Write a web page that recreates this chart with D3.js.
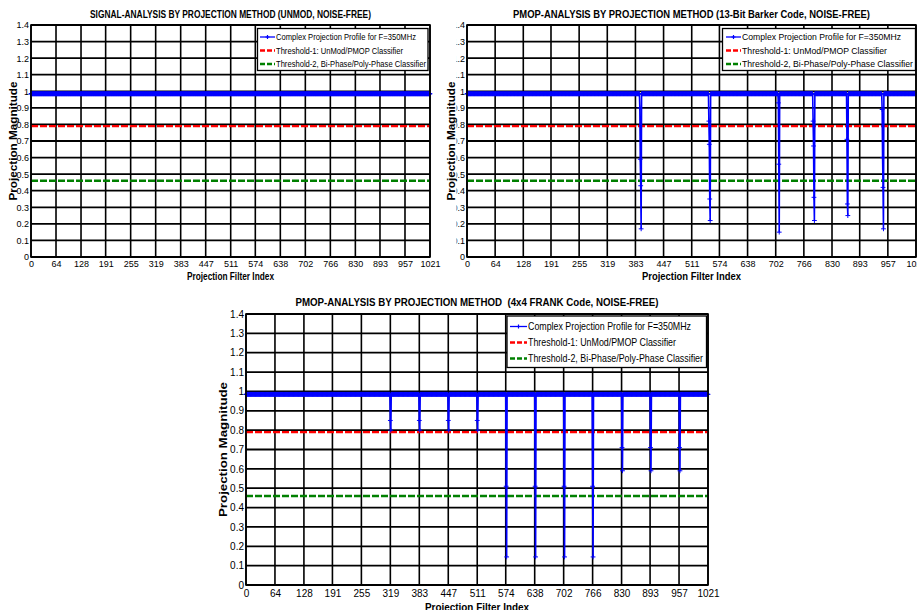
<!DOCTYPE html>
<html><head><meta charset="utf-8">
<script src="https://cdn.jsdelivr.net/npm/d3@7"></script>
<style>
html,body{margin:0;padding:0;background:#fff;overflow:hidden}
svg{display:block}
text{font-family:"Liberation Sans Narrow","Arial Narrow","Liberation Sans",Arial,sans-serif;fill:#000}
</style></head><body>
<svg id="fig" width="917" height="610"></svg>
<script>
// Projection filter axis ticks and magnitude ticks
const filterTicks = [0, 64, 128, 191, 255, 319, 383, 447, 511, 574, 638, 702, 766, 830, 893, 957, 1021];
const magnitudeTicks = [0, 0.1, 0.2, 0.3, 0.4, 0.5, 0.6, 0.7, 0.8, 0.9, 1.0, 1.1, 1.2, 1.3, 1.4];
const filterCount = 1022;

// Flat projection level for the unmodulated carrier and classifier thresholds
const profileLevel = 0.985;
const threshold1 = 0.79;
const threshold2 = 0.46;

// 13-bit Barker code: start index of each dip and the magnitudes that follow
const barkerDipStart = [393, 550, 708, 787, 864, 944];
const barkerDipValues = [
  [0.90, 0.59, 0.43, 0.17],
  [0.82, 0.68, 0.35, 0.22],
  [0.93, 0.56, 0.15],
  [0.82, 0.67, 0.36, 0.22],
  [0.71, 0.32, 0.25],
  [0.89, 0.60, 0.42, 0.17]
];

// 4x4 Frank code: start index of each dip and its magnitudes
const frankDipStart = [319, 383, 447, 511, 575, 639, 703, 766, 831, 894, 958];
const frankDipValues = [
  [0.85, 0.80], [0.85, 0.80], [0.85, 0.80], [0.85, 0.80],
  [0.51, 0.145], [0.51, 0.145], [0.51, 0.145], [0.51, 0.145],
  [0.71, 0.59], [0.71, 0.59], [0.71, 0.59]
];

const legendLabels = [
  "Complex Projection Profile for F=350MHz",
  "Threshold-1: UnMod/PMOP Classifier",
  "Threshold-2, Bi-Phase/Poly-Phase Classifier"
];
const panelTitles = [
  "SIGNAL-ANALYSIS BY PROJECTION METHOD (UNMOD, NOISE-FREE)",
  "PMOP-ANALYSIS BY PROJECTION METHOD (13-Bit Barker Code, NOISE-FREE)",
  "PMOP-ANALYSIS BY PROJECTION METHOD  (4x4 FRANK Code, NOISE-FREE)"
];
const xLabel = "Projection Filter Index";
const yLabel = "Projection Magnitude";

function buildProfile(starts, values) {
  const p = d3.range(filterCount).map(i => ({ i, v: profileLevel }));
  starts.forEach((s, k) => values[k].forEach((v, j) => { p[s + j].v = v; }));
  return p;
}

const svg = d3.select("#fig");
const defs = svg.append("defs");
const BLUE = "#0000ff", RED = "#ff0000", GREEN = "#008000";

function drawPanel(cfg, id) {
  const g = svg.append("g");
  const x = d3.scaleLinear().domain([0, 1021]).range([cfg.left, cfg.right]);
  const y = d3.scaleLinear().domain([0, 1.4]).range([cfg.bottom, cfg.top]);

  // grid
  g.append("g").selectAll("line").data(filterTicks).join("line")
    .attr("x1", d => x(d)).attr("x2", d => x(d))
    .attr("y1", cfg.top).attr("y2", cfg.bottom)
    .attr("stroke", "#000").attr("stroke-width", 1.6);
  g.append("g").selectAll("line").data(magnitudeTicks).join("line")
    .attr("x1", cfg.left).attr("x2", cfg.right)
    .attr("y1", d => y(d)).attr("y2", d => y(d))
    .attr("stroke", "#000").attr("stroke-width", 1.8);

  // thresholds
  [[threshold1, RED], [threshold2, GREEN]].forEach(([t, c]) => {
    g.append("line")
      .attr("x1", cfg.left).attr("x2", cfg.right)
      .attr("y1", y(t)).attr("y2", y(t))
      .attr("stroke", c).attr("stroke-width", 2.4)
      .attr("stroke-dasharray", "7,2");
  });

  // projection profile with '+' markers
  const line = d3.line().x(d => x(d.i)).y(d => y(d.v));
  g.append("path").datum(cfg.profile)
    .attr("d", line).attr("fill", "none")
    .attr("stroke", BLUE).attr("stroke-width", 1.6);
  const m = 2.4;
  g.append("path")
    .attr("d", cfg.profile.map(d => {
      const px = x(d.i), py = y(d.v);
      return `M${px - m},${py}H${px + m}M${px},${py - m}V${py + m}`;
    }).join(""))
    .attr("fill", "none").attr("stroke", BLUE).attr("stroke-width", 1);

  // frame
  g.append("rect").attr("x", cfg.left).attr("y", cfg.top)
    .attr("width", cfg.right - cfg.left).attr("height", cfg.bottom - cfg.top)
    .attr("fill", "none").attr("stroke", "#000").attr("stroke-width", 1.6);

  // axes
  const fmt = d => d3.format(".1f")(d).replace(/\.0$/, "");
  const xa = g.append("g").attr("transform", `translate(0,${cfg.bottom})`)
    .call(d3.axisBottom(x).tickValues(filterTicks).tickFormat(d3.format("d"))
      .tickSize(0).tickPadding(cfg.xPad));
  const ya = g.append("g").attr("transform", `translate(${cfg.left},0)`)
    .call(d3.axisLeft(y).tickValues(magnitudeTicks).tickFormat(fmt).tickSize(0).tickPadding(2));
  [xa, ya].forEach(a => {
    a.select(".domain").remove();
    a.attr("font-family", null).attr("font-size", cfg.tickFs);
  });
  if (cfg.yTickClipX) {
    defs.append("clipPath").attr("id", "yclip" + id).append("rect")
      .attr("x", cfg.yTickClipX - cfg.left).attr("y", 0)
      .attr("width", 100).attr("height", 610);
    ya.attr("clip-path", `url(#yclip${id})`);
  }

  // title and axis labels
  g.append("text").attr("x", (cfg.left + cfg.right) / 2).attr("y", cfg.titleY)
    .attr("text-anchor", "middle").attr("font-weight", "bold")
    .attr("font-size", cfg.titleFs).attr("textLength", cfg.titleLen)
    .attr("lengthAdjust", "spacingAndGlyphs").style("white-space", "pre")
    .text(cfg.title);
  g.append("text").attr("x", (cfg.left + cfg.right) / 2).attr("y", cfg.xLabelY)
    .attr("text-anchor", "middle").attr("font-weight", "bold")
    .attr("font-size", cfg.labelFs).attr("textLength", cfg.xLabelLen)
    .attr("lengthAdjust", "spacingAndGlyphs").text(xLabel);
  g.append("text")
    .attr("transform", `translate(${cfg.yLabelX},${(cfg.top + cfg.bottom) / 2}) rotate(-90)`)
    .attr("text-anchor", "middle").attr("font-weight", "bold")
    .attr("font-size", cfg.labelFs).attr("textLength", cfg.yLabelLen)
    .attr("lengthAdjust", "spacingAndGlyphs").text(yLabel);

  // legend
  const L = cfg.legend;
  g.append("rect").attr("x", L.x).attr("y", L.y).attr("width", L.w).attr("height", L.h)
    .attr("fill", "#fff").attr("stroke", "#000").attr("stroke-width", 1.3);
  const colors = [BLUE, RED, GREEN];
  legendLabels.forEach((lab, k) => {
    const ry = L.rows[k];
    const ln = g.append("line").attr("x1", L.s0).attr("x2", L.s1).attr("y1", ry).attr("y2", ry)
      .attr("stroke", colors[k]).attr("stroke-width", k === 0 ? 1.3 : 2.4);
    if (k === 0) {
      const cx = (L.s0 + L.s1) / 2;
      g.append("path").attr("d", `M${cx - 2},${ry}H${cx + 2}M${cx},${ry - 2}V${ry + 2}`)
        .attr("stroke", BLUE).attr("stroke-width", 1.2);
    } else {
      ln.attr("stroke-dasharray", "5,2");
    }
    g.append("text").attr("x", L.tx).attr("y", ry).attr("dy", "0.35em")
      .attr("font-size", L.fs).attr("textLength", L.lens[k])
      .attr("lengthAdjust", "spacingAndGlyphs").text(lab);
  });
}

drawPanel({
  left: 31, right: 430, top: 25, bottom: 257,
  profile: buildProfile([], []),
  title: panelTitles[0], titleY: 18, titleFs: 10, titleLen: 281,
  tickFs: 9, xPad: 4, labelFs: 10, xLabelY: 280, xLabelLen: 87,
  yLabelX: 16.5, yLabelLen: 119,
  legend: { x: 257.5, y: 28.5, w: 170.5, h: 42, rows: [37, 50.5, 64], s0: 260, s1: 275, tx: 276,
            fs: 9, lens: [140, 127, 150] }
}, 1);

drawPanel({
  left: 467, right: 916, top: 25, bottom: 257,
  profile: buildProfile(barkerDipStart, barkerDipValues),
  title: panelTitles[1], titleY: 18, titleFs: 10, titleLen: 357,
  tickFs: 9, xPad: 4, labelFs: 10, xLabelY: 280, xLabelLen: 99,
  yLabelX: 455, yLabelLen: 119, yTickClipX: 456.5,
  legend: { x: 722.5, y: 28.5, w: 193, h: 42, rows: [37, 50.5, 64], s0: 726, s1: 741, tx: 742,
            fs: 9, lens: [159, 145, 171] }
}, 2);

drawPanel({
  left: 246, right: 708, top: 314, bottom: 585,
  profile: buildProfile(frankDipStart, frankDipValues),
  title: panelTitles[2], titleY: 305.5, titleFs: 11, titleLen: 363,
  tickFs: 10, xPad: 5, labelFs: 11, xLabelY: 611, xLabelLen: 104,
  yLabelX: 227, yLabelLen: 135,
  legend: { x: 507, y: 316, w: 199.5, h: 51.5, rows: [326.5, 342.5, 358.5], s0: 510, s1: 527, tx: 528,
            fs: 10.5, lens: [163, 148, 175] }
}, 3);
</script>
</body></html>
